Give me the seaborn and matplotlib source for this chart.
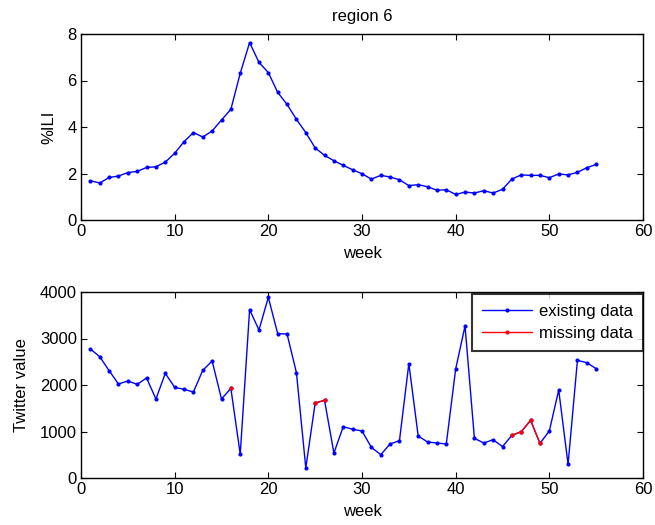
import numpy as np
import pandas as pd
import matplotlib
matplotlib.use("Agg")
import matplotlib.pyplot as plt
import seaborn as sns

weeks = list(range(1, 56))
ili = [1.69, 1.59, 1.83, 1.89, 2.04, 2.09, 2.26, 2.29, 2.49, 2.87,
       3.37, 3.76, 3.57, 3.83, 4.30, 4.76, 6.31, 7.63, 6.78, 6.34,
       5.49, 4.97, 4.33, 3.76, 3.10, 2.78, 2.55, 2.35, 2.16, 1.99,
       1.76, 1.92, 1.85, 1.73, 1.48, 1.52, 1.43, 1.28, 1.30, 1.10,
       1.20, 1.16, 1.26, 1.16, 1.32, 1.76, 1.94, 1.92, 1.92, 1.82,
       1.98, 1.94, 2.05, 2.25, 2.39]
twitter = [2774, 2609, 2308, 2022, 2086, 2014, 2151, 1699, 2251, 1950,
           1907, 1849, 2315, 2516, 1699, 1928, 509, 3620, 3183, 3885,
           3104, 3097, 2265, 215, 1613, 1670, 537, 1104, 1047, 1011,
           659, 502, 731, 803, 2459, 903, 774, 753, 731, 2344,
           3269, 853, 753, 824, 674, 917, 996, 1240, 745, 1011,
           1892, 294, 2531, 2480, 2351]
missing_segments = [[16], [25, 26], [46, 47, 48, 49]]

sns.set_theme(style="white")
plt.rcParams['font.family'] = ['Liberation Sans', 'DejaVu Sans']
plt.rcParams['font.size'] = 12
plt.rcParams['text.color'] = 'black'
plt.rcParams['axes.labelcolor'] = 'black'

df = pd.DataFrame({"week": weeks, "ili": ili, "twitter": twitter})

fig = plt.figure(figsize=(6.55, 5.25), dpi=100)
ax1 = fig.add_axes([81/655, 1-220/525, 562/655, 186/525])
ax2 = fig.add_axes([81/655, 1-478/525, 562/655, 186/525])

blue = "#0000ff"
red = "#ff0000"

sns.lineplot(data=df, x="week", y="ili", ax=ax1, color=blue, lw=1.0,
             marker="o", markersize=3, markeredgewidth=0, markerfacecolor=blue)
sns.lineplot(data=df, x="week", y="twitter", ax=ax2, color=blue, lw=1.0,
             marker="o", markersize=3, markeredgewidth=0, markerfacecolor=blue,
             label="existing data")
for i, seg in enumerate(missing_segments):
    sub = df[df["week"].isin(seg)]
    sns.lineplot(data=sub, x="week", y="twitter", ax=ax2, color=red, lw=1.0,
                 marker="o", markersize=3, markeredgewidth=0, markerfacecolor=red,
                 label="missing data" if i == 0 else None)

ax1.set_xlim(0, 60)
ax1.set_ylim(0, 8)
ax1.set_xticks(range(0, 61, 10))
ax1.set_yticks(range(0, 9, 2))
ax1.set_xlabel("week", fontsize=12, labelpad=5)
ax1.set_ylabel("%ILI", fontsize=12, labelpad=8)
ax1.set_title("region 6", fontsize=12, pad=9, color="black")

ax2.set_xlim(0, 60)
ax2.set_ylim(0, 4000)
ax2.set_xticks(range(0, 61, 10))
ax2.set_yticks(range(0, 4001, 1000))
ax2.set_xlabel("week", fontsize=12, labelpad=5)
ax2.set_ylabel("Twitter value", fontsize=12, labelpad=8)

for ax in (ax1, ax2):
    for s in ax.spines.values():
        s.set_visible(True)
        s.set_color("black")
        s.set_linewidth(1.0)
    ax.tick_params(direction="in", length=4, width=0.8, top=True, right=True,
                   bottom=True, left=True, labelsize=12, colors="black", pad=3)
    ax.grid(False)

leg = ax2.legend(loc="upper right", bbox_to_anchor=(1.0, 0.99), frameon=True,
                 fancybox=False, fontsize=12, borderaxespad=0.0,
                 handlelength=3.0, handletextpad=0.4, borderpad=0.6,
                 labelspacing=0.4, edgecolor="black")
leg.get_frame().set_linewidth(1.5)
for t in leg.get_texts():
    t.set_color("black")

fig.savefig("out.png", dpi=100)
